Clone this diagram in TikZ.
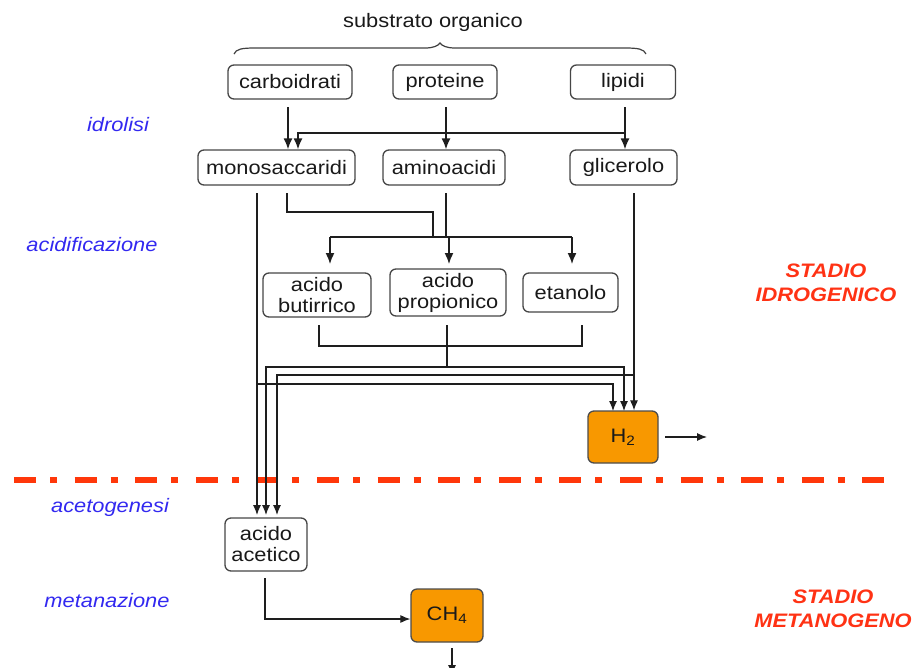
\documentclass[tikz,border=0pt]{standalone}
\usepackage{fontspec}
\setmainfont{Liberation Sans}[FakeStretch=1.12]
\usetikzlibrary{arrows.meta}
\definecolor{linec}{RGB}{30,30,30}
\definecolor{boxc}{RGB}{70,70,70}
\definecolor{orangec}{RGB}{248,152,0}
\definecolor{bluec}{RGB}{50,40,240}
\definecolor{redc}{RGB}{255,50,20}
\definecolor{dashc}{RGB}{255,55,10}
\begin{document}
\begin{tikzpicture}[x=1pt,y=-1pt,
  box/.style={draw=boxc, line width=1.3pt, rounded corners=6pt, fill=white, inner sep=0pt, align=center, font=\fontsize{19.5}{21}\selectfont, text=black!90},
  obox/.style={box, fill=orangec, draw=black!70},
  conn/.style={draw=linec, line width=1.5pt},
  thin/.style={draw=linec, line width=1.1pt},
  arr/.style={conn, -{Latex[length=11pt,width=9pt]}},
  tarr/.style={thin, -{Latex[length=10pt,width=8pt]}},
  phase/.style={text=bluec, font=\fontsize{19.5}{22}\selectfont\itshape},
  stadio/.style={text=redc, font=\fontsize{19.5}{23.5}\selectfont\bfseries\itshape, align=center},
]
\useasboundingbox (0,0) rectangle (915,667);
\clip (0,0) rectangle (915,667);

% title and brace
\node[font=\fontsize{19.5}{22}\selectfont, text=black!90] (title) at (433,22) {substrato organico};
\draw[line width=1.2pt, black!75] (234,54) .. controls (236,49) and (242,48) .. (255,48) -- (425,48) .. controls (433,48) and (438,46) .. (440,43) .. controls (442,46) and (447,48) .. (455,48) -- (625,48) .. controls (638,48) and (644,49) .. (646,54);

% boxes
\node[box, minimum width=124pt, minimum height=34pt] (carb) at (290,82) {carboidrati};
\node[box, minimum width=104pt, minimum height=34pt] (prot) at (445,82) {proteine};
\node[box, minimum width=105pt, minimum height=34pt] (lip) at (623,82) {lipidi};
\node[box, minimum width=157pt, minimum height=35pt] (mono) at (276.5,167.5) {monosaccaridi};
\node[box, minimum width=122pt, minimum height=35pt] (amino) at (444,167.5) {aminoacidi};
\node[box, minimum width=107pt, minimum height=35pt] (glic) at (623.5,167.5) {glicerolo};
\node[box, minimum width=108pt, minimum height=44pt] (but) at (317,295) {acido\\butirrico};
\node[box, minimum width=116pt, minimum height=47pt] (prop) at (448,292.5) {acido\\propionico};
\node[box, minimum width=95pt, minimum height=39pt] (etan) at (570.5,292.5) {etanolo};
\node[obox, minimum width=70pt, minimum height=52pt] (htwo) at (623,437) {H\textsubscript{2}};
\node[box, minimum width=82pt, minimum height=53pt] (acet) at (266,544.5) {acido\\acetico};
\node[obox, minimum width=72pt, minimum height=53pt] (chfour) at (447,615.5) {CH\textsubscript{4}};

% labels
\node[phase] (l1) at (118,125) {idrolisi};
\node[phase] (l2) at (92,245) {acidificazione};
\node[phase] (l3) at (110,507) {acetogenesi};
\node[phase] (l4) at (107,601) {metanazione};
\node[stadio] (s1) at (826,283) {STADIO\\IDROGENICO};
\node[stadio] (s2) at (833,609) {STADIO\\METANOGENO};

% separator
\draw[dashc, line width=6pt, dash pattern=on 22pt off 14pt on 7pt off 17.6pt] (14,480) -- (887,480);

% idrolisi
\coordinate (ca) at (288,107);
\draw[arr] (ca) -- (ca |- mono.north);
\coordinate (pa) at (446,107);
\draw[arr] (pa) -- (pa |- amino.north);
\coordinate (la) at (625,107);
\draw[arr] (la) -- (la |- glic.north);
\coordinate (lb) at (625,133);
\coordinate (lc) at (298,133);
\draw[arr] (lb) -- (lc) -- (lc |- mono.north);

% acidificazione
\coordinate (m2) at (287,193);
\draw[conn] (m2) -- (287,212) -- (433,212) -- (433,237);
\coordinate (am) at (446,193);
\draw[conn] (am) -- (446,237);
\draw[conn] (330,237) -- (572,237);
\coordinate (ja) at (330,237);
\coordinate (jb) at (449,237);
\coordinate (jc) at (572,237);
\draw[arr] (ja) -- (330,264);
\draw[arr] (jb) -- (449,264);
\draw[arr] (jc) -- (572,264);

% lower network
\coordinate (g1) at (634,193);
\draw[tarr] (g1) -- (g1 |- htwo.north);
\draw[thin] (319,325) -- (319,346) -- (582,346) -- (582,325);
\draw[thin] (447,325) -- (447,367);
\coordinate (pj) at (447,367);
\draw[tarr] (pj) -- (266,367) -- (266,515);
\draw[tarr] (pj) -- (624,367) -- (624,411);
\draw[tarr] (634,375) -- (277,375) -- (277,515);
\coordinate (m1) at (257,193);
\draw[tarr] (m1) -- (257,515);
\draw[tarr] (257,384) -- (613,384) -- (613,411);

% products
\coordinate (ab) at (265,578);
\draw[tarr] (ab) -- (265,619) -- (chfour.west |- 0,619);
\coordinate (hr) at (665,437);
\draw[tarr] (hr) -- (707,437);
\coordinate (cb) at (452,648);
\draw[tarr] (cb) -- (452,675);
\end{tikzpicture}
\end{document}
